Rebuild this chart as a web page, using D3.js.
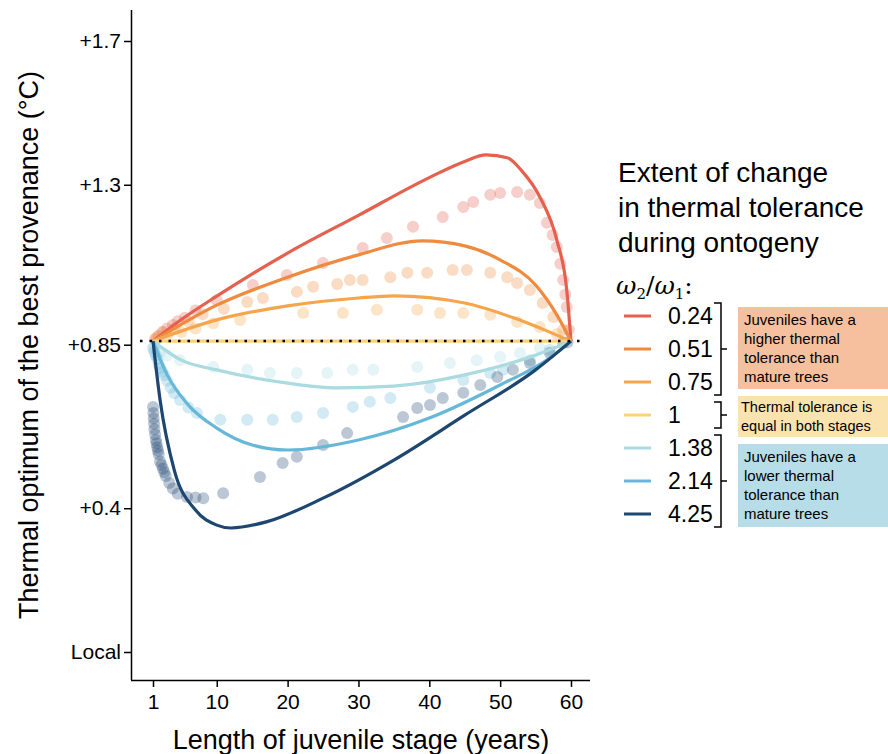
<!DOCTYPE html>
<html><head><meta charset="utf-8">
<script src="https://cdn.jsdelivr.net/npm/d3@7"></script>
<style>body{margin:0;background:#fff;font-family:"Liberation Sans",Arial,sans-serif}</style>
</head><body><svg id="c" width="888" height="754"></svg>
<script>
const ratios = ["0.24", "0.51", "0.75", "1", "1.38", "2.14", "4.25"];
const colors = ["#e5604e", "#ef8a3e", "#f6a54a", "#fbd27b", "#a9dbe0", "#67b8d8", "#1d4670"];
const yTicks = [0, 0.4, 0.855, 1.3, 1.7];
const yTickLabels = ["Local", "+0.4", "+0.85", "+1.3", "+1.7"];
const xTicks = [1, 10, 20, 30, 40, 50, 60];
const baseline = 0.865;

// model curves [years, optimum]
const curves = [
  [[1,0.865],[5,0.925],[10,0.99],[20,1.11],[30,1.215],[40,1.32],[45,1.365],[48,1.383],[51,1.375],[53,1.34],[55.6,1.266],[58,1.146],[59.4,1.007],[60,0.865]],
  [[1,0.865],[10,0.965],[20,1.043],[30,1.105],[39,1.144],[45,1.13],[50,1.091],[55,1.021],[58,0.938],[60,0.865]],
  [[1,0.865],[10,0.924],[20,0.963],[30,0.985],[35,0.991],[45,0.971],[52,0.929],[57,0.89],[60,0.865]],
  [[1,0.865],[60,0.865]],
  [[1,0.865],[5,0.812],[10,0.785],[20,0.748],[27,0.735],[35,0.74],[45,0.771],[55,0.826],[60,0.865]],
  [[1,0.865],[3,0.771],[6,0.687],[10,0.623],[15,0.576],[20,0.562],[30,0.59],[40,0.651],[50,0.743],[57,0.818],[60,0.865]],
  [[1,0.865],[2,0.701],[4,0.506],[7,0.395],[10,0.353],[12,0.345],[17,0.362],[25,0.428],[35,0.534],[45,0.659],[55,0.785],[60,0.865]]
];

// simulated optima (points)
const dots = [
  [[1.3,0.87],[1.8,0.88],[2.3,0.89],[3,0.9],[3.8,0.91],[4.5,0.92],[5.5,0.93],[7,0.95],[10,0.979],[15.1,1.021],[19.9,1.049],[25,1.082],[30.6,1.124],[34,1.152],[37.7,1.183],[41.9,1.21],[44.8,1.238],[46.2,1.252],[48.6,1.272],[50,1.277],[52.4,1.28],[54.2,1.272],[55.6,1.249],[56.6,1.194],[57.4,1.16],[58,1.127],[58.5,1.08],[58.9,1.035],[59.2,0.995],[59.4,0.96],[59.7,0.896]],
  [[1.5,0.875],[2.5,0.89],[4,0.9],[6,0.92],[8,0.94],[11,0.955],[14.3,0.974],[16.5,0.985],[21.3,1.002],[23.6,1.016],[27,1.024],[28.8,1.035],[30.6,1.035],[34.5,1.043],[36.9,1.055],[39.7,1.055],[43.3,1.063],[45.3,1.063],[48.6,1.055],[51,1.043],[52.4,1.027],[54.2,1.007],[56,0.971],[57.5,0.932],[58.9,0.896]],
  [[1.5,0.87],[3,0.88],[5,0.89],[7,0.9],[9.5,0.915],[13.3,0.924],[22.2,0.943],[27.8,0.943],[32.6,0.952],[38.3,0.952],[41.5,0.943],[44.8,0.943],[48.6,0.938],[52.4,0.918],[55.6,0.904],[58,0.885]],
  [],
  [[1.2,0.85],[2,0.835],[3,0.825],[4.8,0.812],[9.5,0.793],[14.3,0.785],[17.5,0.776],[21.3,0.776],[25.6,0.776],[29.2,0.785],[32.1,0.785],[38.3,0.793],[42.9,0.804],[46.7,0.812],[50,0.821],[52.8,0.832],[55.6,0.846]],
  [[1,0.845],[1.2,0.835],[1.4,0.825],[1.6,0.815],[1.8,0.8],[2,0.79],[2.3,0.78],[2.6,0.77],[3,0.755],[3.5,0.735],[4,0.72],[4.8,0.701],[6,0.68],[7.2,0.665],[10.5,0.646],[14.3,0.646],[17.9,0.646],[21.3,0.654],[25,0.665],[29.2,0.682],[31.6,0.696],[34.5,0.707],[40.1,0.735],[44.8,0.757],[48.6,0.776],[50.4,0.785],[54.2,0.812],[57,0.84]],
  [[1,0.682],[1.05,0.665],[1.1,0.65],[1.15,0.635],[1.2,0.62],[1.3,0.605],[1.4,0.59],[1.5,0.58],[1.6,0.57],[1.7,0.56],[1.8,0.55],[2,0.53],[2.2,0.52],[2.4,0.51],[2.6,0.5],[2.8,0.49],[3.3,0.47],[3.8,0.455],[4.5,0.44],[5.8,0.431],[7,0.43],[8.1,0.428],[10.9,0.442],[16.1,0.487],[19.3,0.526],[21.3,0.543],[25,0.576],[28.4,0.609],[36.3,0.654],[38.3,0.679],[40.1,0.687],[41.9,0.707],[44.8,0.721],[47.2,0.743],[49.6,0.765],[51.8,0.785],[54.2,0.804],[57,0.832],[58.9,0.86],[59.5,0.862]]
];

const svg = d3.select("#c");
const x = d3.scaleLinear().domain([1, 60]).range([153, 571]);
const y = d3.scaleLinear().domain([0, 1.7]).range([652, 41]);

const plot = svg.append("g");
dots.forEach((d, i) => {
  plot.append("g").selectAll("circle").data(d).join("circle")
    .attr("cx", p => x(p[0])).attr("cy", p => y(p[1])).attr("r", 6)
    .attr("fill", colors[i]).attr("opacity", 0.3);
});

const line = d3.line().x(p => x(p[0])).y(p => y(p[1])).curve(d3.curveMonotoneX);
curves.forEach((d, i) => {
  plot.append("path").attr("d", line(d)).attr("fill", "none")
    .attr("stroke", colors[i]).attr("stroke-width", 3.2);
});

plot.append("line").attr("x1", 140).attr("x2", 585).attr("y1", y(baseline)).attr("y2", y(baseline))
  .attr("stroke", "#000").attr("stroke-width", 2.5).attr("stroke-dasharray", "2.5,7");

// axes
const xAxis = svg.append("g").attr("transform", "translate(0,680)")
  .call(d3.axisBottom(x).tickValues(xTicks).tickSize(7).tickSizeOuter(0));
xAxis.select(".domain").attr("d", "M131,0.5H590");
const yAxis = svg.append("g").attr("transform", "translate(131,0)")
  .call(d3.axisLeft(y).tickValues(yTicks).tickFormat((d, i) => yTickLabels[i]).tickSize(7).tickSizeOuter(0));
yAxis.select(".domain").attr("d", "M0.5,10V680");
svg.selectAll(".tick text").attr("font-size", 21).attr("fill", "#000").attr("font-family", "Liberation Sans, Arial");
svg.selectAll(".domain, .tick line").attr("stroke", "#000").attr("stroke-width", 1.5);
xAxis.selectAll(".tick text").attr("dy", "0.9em");

svg.append("text").attr("x", 361).attr("y", 749).attr("text-anchor", "middle")
  .attr("font-size", 27).text("Length of juvenile stage (years)");
svg.append("text").attr("transform", "translate(38,345) rotate(-90)").attr("text-anchor", "middle")
  .attr("font-size", 27).text("Thermal optimum of the best provenance (°C)");

// legend
const lg = svg.append("g");
["Extent of change", "in thermal tolerance", "during ontogeny"].forEach((t, i) =>
  lg.append("text").attr("x", 618).attr("y", 182 + i * 35).attr("font-size", 28).text(t));
const w = lg.append("text").attr("x", 616).attr("y", 294).attr("font-size", 25).attr("font-family", "DejaVu Serif, serif");
w.append("tspan").attr("font-style", "italic").text("ω");
w.append("tspan").attr("font-size", 15).attr("dy", 5).text("2");
w.append("tspan").attr("dy", -5).text("/");
w.append("tspan").attr("font-style", "italic").text("ω");
w.append("tspan").attr("font-size", 15).attr("dy", 5).text("1");
w.append("tspan").attr("dy", -5).text(":");

const ly = d3.scalePoint().domain(ratios).range([316, 514]);
ratios.forEach((r, i) => {
  lg.append("line").attr("x1", 624).attr("x2", 651).attr("y1", ly(r)).attr("y2", ly(r))
    .attr("stroke", colors[i]).attr("stroke-width", 3);
  lg.append("text").attr("x", 668).attr("y", ly(r) + 8).attr("font-size", 23).text(r);
});

const groups = [
  { from: "0.24", to: "0.75", fill: "#f6c09e", box: [307, 389], lines: ["Juveniles have a", "higher thermal", "tolerance than", "mature trees"] },
  { from: "1", to: "1", fill: "#fbe3b0", box: [396, 437], lines: ["Thermal tolerance is", "equal in both stages"] },
  { from: "1.38", to: "4.25", fill: "#b7dde8", box: [444, 527], lines: ["Juveniles have a", "lower thermal", "tolerance than", "mature trees"] }
];
groups.forEach(g => {
  const y0 = ly(g.from) - 13, y1 = ly(g.to) + 13, ym = (y0 + y1) / 2;
  lg.append("path").attr("fill", "none").attr("stroke", "#000").attr("stroke-width", 1.5)
    .attr("d", `M714,${y0}H721V${y1}H714M721,${ym}H727`);
  lg.append("rect").attr("x", 738).attr("y", g.box[0]).attr("width", 150).attr("height", g.box[1] - g.box[0]).attr("fill", g.fill);
  const lh = 19, ty = (g.box[0] + g.box[1]) / 2 - (g.lines.length - 1) * lh / 2 + 5;
  g.lines.forEach((t, j) => lg.append("text").attr("x", g.lines.length === 2 ? 741 : 744)
    .attr("y", ty + j * lh).attr("font-size", g.lines.length === 2 ? 14.5 : 15).text(t));
});
</script></body></html>
